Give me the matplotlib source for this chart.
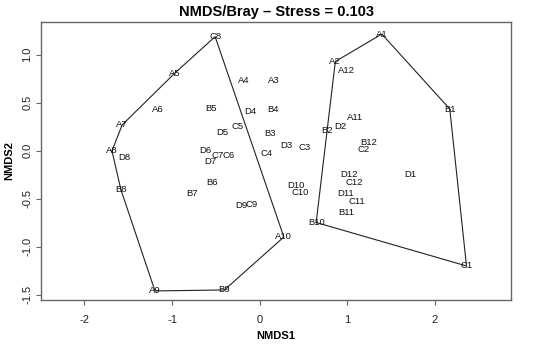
import numpy as np
import matplotlib
matplotlib.use("Agg")
import matplotlib.pyplot as plt

plt.rcParams['font.family'] = ['Liberation Sans', 'DejaVu Sans']

# Group with left hull
left_labels = ["C8", "A5", "A6", "A7", "A8", "D8", "B8", "A9", "B9", "A10",
               "B5", "C5", "D5", "D6", "C7", "C6", "D7", "B6", "B7", "D9", "C9"]
left_x = [-0.508, -0.967, -1.164, -1.570, -1.686, -1.546, -1.585, -1.195, -0.402, 0.277,
          -0.559, -0.251, -0.422, -0.624, -0.479, -0.358, -0.559, -0.545, -0.776, -0.213, -0.091]
left_y = [1.188, 0.809, 0.431, 0.268, -0.003, -0.066, -0.403, -1.461, -1.451, -0.899,
          0.441, 0.257, 0.187, 0.000, -0.052, -0.055, -0.111, -0.330, -0.448, -0.569, -0.556]

# Group with right hull
right_labels = ["A1", "A2", "A12", "B1", "C1", "B10", "B2", "D2", "A11", "B12", "C2",
                "D12", "C12", "D1", "D11", "C11", "B11"]
right_x = [1.396, 0.865, 0.993, 2.172, 2.363, 0.646, 0.774, 0.917, 1.088, 1.251, 1.183,
           1.023, 1.080, 1.727, 0.982, 1.107, 0.993]
right_y = [1.215, 0.929, 0.834, 0.434, -1.201, -0.748, 0.208, 0.257, 0.348, 0.083, 0.015,
           -0.246, -0.329, -0.246, -0.448, -0.531, -0.642]

# Samples without a drawn hull
other_labels = ["A3", "A4", "B4", "D4", "B3", "C4", "D3", "C3", "D10", "C10"]
other_x = [0.167, -0.179, 0.155, -0.111, 0.118, 0.080, 0.308, 0.509, 0.411, 0.460]
other_y = [0.736, 0.729, 0.424, 0.406, 0.181, -0.027, 0.052, 0.035, -0.358, -0.438]

x_ticks = [-2, -1, 0, 1, 2]
y_ticks = [-1.5, -1.0, -0.5, 0.0, 0.5, 1.0]
title = "NMDS/Bray \u2013 Stress = 0.103"


def convex_hull(xs, ys):
    pts = sorted(zip(xs, ys))

    def cross(o, a, b):
        return (a[0] - o[0]) * (b[1] - o[1]) - (a[1] - o[1]) * (b[0] - o[0])

    lower = []
    for p in pts:
        while len(lower) >= 2 and cross(lower[-2], lower[-1], p) <= 0:
            lower.pop()
        lower.append(p)
    upper = []
    for p in reversed(pts):
        while len(upper) >= 2 and cross(upper[-2], upper[-1], p) <= 0:
            upper.pop()
        upper.append(p)
    hull = lower[:-1] + upper[:-1]
    hull.append(hull[0])
    return np.array(hull)


fig = plt.figure(figsize=(5.5, 3.5), dpi=100)
ax = fig.add_axes([0.074, 0.143, 0.856, 0.794])

for xs, ys in [(left_x, left_y), (right_x, right_y)]:
    h = convex_hull(xs, ys)
    ax.plot(h[:, 0], h[:, 1], color='#222222', lw=0.8, zorder=1)

for labs, xs, ys in [(left_labels, left_x, left_y), (right_labels, right_x, right_y),
                     (other_labels, other_x, other_y)]:
    for l, x, y in zip(labs, xs, ys):
        ax.text(x, y, l, ha='center', va='center', fontsize=6.8, color='#111111', zorder=2)

ax.set_xlim(-2.5, 2.877)
ax.set_ylim(-1.555, 1.34)
ax.set_xticks(x_ticks)
ax.set_xticklabels([str(t) for t in x_ticks])
ax.set_yticks(y_ticks)
ax.set_yticklabels([f"{t:.1f}" for t in y_ticks], rotation=90, va='center')

for s in ax.spines.values():
    s.set_color('#666666')
    s.set_linewidth(1.0)
ax.tick_params(axis='both', direction='out', length=3.5, width=0.8, color='#666666',
               labelsize=8, labelcolor='#222222')
ax.tick_params(axis='x', pad=7)
ax.tick_params(axis='y', pad=2.5)

ax.set_xlabel("NMDS1", fontsize=8, fontweight='bold', labelpad=5)
ax.set_ylabel("NMDS2", fontsize=8, fontweight='bold', labelpad=6)
ax.set_title(title, fontsize=10.5, fontweight='bold', pad=4)

fig.savefig("out.png", dpi=100)
